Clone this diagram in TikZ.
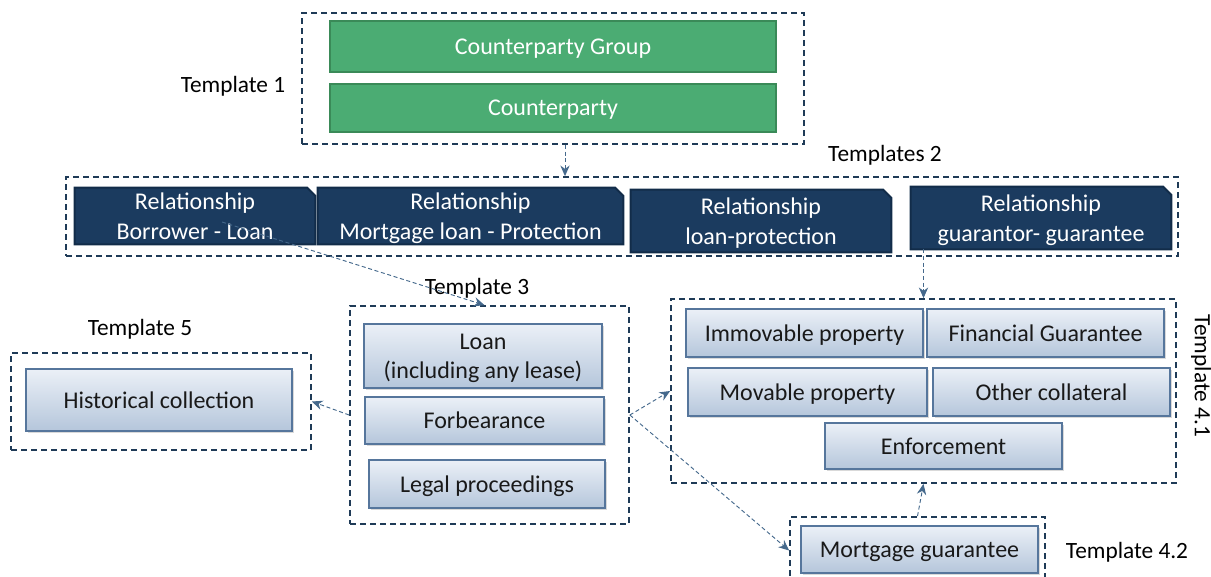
\documentclass[tikz,border=0pt]{standalone}
\usepackage{fontspec}
\setmainfont{Carlito}
\usetikzlibrary{calc,shadows,arrows.meta,backgrounds}
\definecolor{framec}{HTML}{1F3B57}
\definecolor{greenf}{HTML}{4BAC73}
\definecolor{greend}{HTML}{3A8A58}
\definecolor{navyf}{HTML}{1B3B5F}
\definecolor{navyd}{HTML}{122C49}
\definecolor{lighttop}{HTML}{EBF0F7}
\definecolor{lightbot}{HTML}{B5C6DB}
\definecolor{lightd}{HTML}{56769C}
\definecolor{connc}{HTML}{45698C}
\begin{document}
\begin{tikzpicture}[x=0.75pt,y=-0.75pt,
  area/.style n args={4}{at={({(#1+#3)/2},{(#2+#4)/2})}, minimum width={(#3-#1)*0.75pt}, minimum height={(#4-#2)*0.75pt}},
  frame/.style={draw=framec, line width=1.3pt, dash pattern=on 4.5pt off 3pt, inner sep=0pt},
  gbox/.style={fill=greenf, draw=greend, line width=1.8pt, inner sep=0pt, text=white, text depth=0pt, font=\fontsize{18}{21.5}\selectfont},
  nbox/.style={inner sep=0pt, text=white, align=center, text depth=0pt, font=\fontsize{18}{22}\selectfont},
  lbox/.style={top color=lighttop, bottom color=lightbot, draw=lightd, line width=0.9pt, inner sep=0pt, align=center, text depth=0pt, text=black!90, font=\fontsize{18}{21.5}\selectfont, drop shadow={shadow xshift=1.2pt, shadow yshift=-1.6pt, opacity=0.3}},
  lab/.style={inner sep=0pt, text=black, font=\fontsize{17.5}{20}\selectfont},
  conn/.style={draw=connc, line width=0.7pt, dash pattern=on 3pt off 2pt, -{Stealth[length=8pt,width=7pt]}},
  navyshape/.style={fill=navyf, draw=navyd, line width=1.5pt}]
\useasboundingbox (0,0) rectangle (1211,576);

% Template 1
\node[frame, area={302}{13}{804}{144}] (t1f) {};
\node[gbox, area={330}{21}{776}{72}] (cpg) {Counterparty Group};
\node[gbox, area={330}{84}{776}{132}] (cp) {Counterparty};
\node[lab] (l1) at (233,86) {Template 1};

% Templates 2
\node[frame, area={66}{177}{1178}{256}] (t2f) {};
\node[lab] (l2) at (885,155) {Templates 2};
\node[nbox, area={75}{188}{315}{244}] (b1) {Relationship\\Borrower - Loan};
\node[nbox, area={318}{188}{623}{244}] (b2) {Relationship\\Mortgage loan - Protection};
\node[nbox, area={631}{190}{891}{252}] (b3) {Relationship\\loan-protection};
\node[nbox, area={911}{187}{1171}{249}] (b4) {Relationship\\guarantor- guarantee};
\begin{scope}[on background layer]
  \foreach \b in {b1,b2,b3,b4}{
    \path[navyshape] (\b.south west) -- (\b.north west) -- ($(\b.north east)+(-8,0)$)
      -- ($(\b.north east)+(0,8)$) -- (\b.south east) -- cycle;
  }
\end{scope}

% Template 3
\node[frame, area={350}{306}{629}{524}] (t3f) {};
\node[lab] (l3) at (477,288) {Template 3};
\node[lbox, area={364}{324}{602}{388}] (loan) {Loan\\(including any lease)};
\node[lbox, area={365}{397}{604}{444}] (forb) {Forbearance};
\node[lbox, area={369}{460}{605}{508}] (legal) {Legal proceedings};

% Template 5
\node[frame, area={11}{353}{311}{450}] (t5f) {};
\node[lab] (l5) at (140,329) {Template 5};
\node[lbox, area={26}{369}{292}{431}] (hist) {Historical collection};

% Template 4.1
\node[frame, area={671}{299}{1176}{483}] (t4f) {};
\node[lab, rotate=-90] (l41) at (1201,376) {Template 4.1};
\node[lbox, area={686}{309}{923}{357}] (immo) {Immovable property};
\node[lbox, area={927}{309}{1164}{357}] (fin) {Financial Guarantee};
\node[lbox, area={688}{368}{927}{416}] (mov) {Movable property};
\node[lbox, area={933}{368}{1170}{416}] (oth) {Other collateral};
\node[lbox, area={825}{423}{1062}{469}] (enf) {Enforcement};

% Template 4.2
\node[frame, area={790}{517}{1045}{584}] (t42f) {};
\node[lbox, area={801}{526}{1038}{573}] (mg) {Mortgage guarantee};
\node[lab] (l42) at (1127,552) {Template 4.2};

% connectors
\coordinate (a1) at ($(t1f.south)+(12,0)$);
\draw[conn] (a1) -- (a1 |- t2f.north);
\coordinate (a2) at ($(b1.center)+(27,6)$);
\draw[conn] (a2) -- ($(t3f.north)+(-5,0)$);
\draw[conn] (t4f.north |- b4.south) -- (t4f.north);
\draw[conn] (t3f.west) -- (t5f.east);
\draw[conn] (t3f.east) -- (t4f.west);
\draw[conn] (t3f.east) -- (t42f.west);
\draw[conn] (t42f.north) -- (t4f.south);
\end{tikzpicture}
\end{document}
